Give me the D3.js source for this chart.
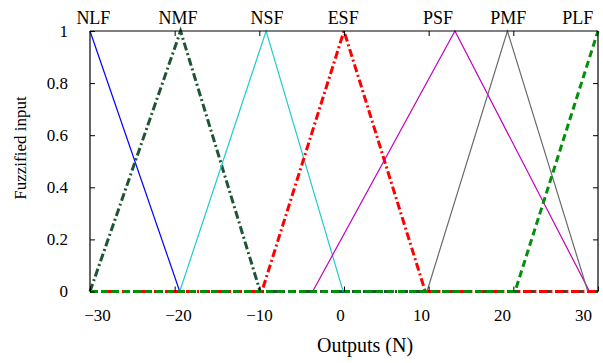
<!DOCTYPE html>
<html><head><meta charset="utf-8">
<script src="https://cdn.jsdelivr.net/npm/d3@7"></script>
<style>
html,body{margin:0;padding:0;background:#fff;}
svg{display:block;font-family:"Liberation Serif","Times New Roman",serif;}
</style></head>
<body><svg id="c" width="603" height="363"></svg>
<script>
// ---- data ----
const setNames = ["NLF","NMF","NSF","ESF","PSF","PMF","PLF"];
const nlfX = [-30, -19.4];            const nlfY = [1, 0];
const nmfX = [-30, -19.3, -9.9, 30];  const nmfY = [0, 1, 0, 0];
const nsfX = [-19.4, -9.2, -0.1];     const nsfY = [0, 1, 0];
const esfX = [-30, -9.7, 0, 9.6, 30]; const esfY = [0, 0, 1, 0, 0];
const psfX = [-3.7, 13.1, 29.0];      const psfY = [0, 1, 0];
const pmfX = [9.8, 19.3, 28.8];       const pmfY = [0, 1, 0];
const plfX = [-30, 20.2, 30];         const plfY = [0, 0, 1];
const nameAt = [-29.6, -19.6, -9.1, -0.1, 11.1, 19.4, 27.6];
const xTicks = [-30, -20, -10, 0, 10, 20, 30];
const yTicks = [0, 0.2, 0.4, 0.6, 0.8, 1];

const styles = [
  {c:"#0000ff", w:1.2, d:null},
  {c:"#1e5535", w:3, d:"8,3,2,3"},
  {c:"#22cccc", w:1.2, d:null},
  {c:"#ff0000", w:3, d:"8,3,2,3"},
  {c:"#c000c0", w:1.2, d:null},
  {c:"#6a6a6a", w:1.2, d:null},
  {c:"#00900a", w:3, d:"7,4"}
];
const series = [[nlfX,nlfY],[nmfX,nmfY],[nsfX,nsfY],[esfX,esfY],[psfX,psfY],[pmfX,pmfY],[plfX,plfY]];

const L=90, R=598, T=31, B=291.5;
const svg = d3.select("#c");
const x = d3.scaleLinear().domain([-30,30]).range([L,R]);
const xLab = d3.scaleLinear().domain([-30,30]).range([97,583]);
const y = d3.scaleLinear().domain([0,1]).range([B,T]);

// curves
const line = d3.line().x(d=>x(d[0])).y(d=>y(d[1]));
series.forEach((s,i)=>{
  const pts = s[0].map((v,j)=>[v, s[1][j]]);
  svg.append("path").attr("d", line(pts)).attr("fill","none")
    .attr("stroke", styles[i].c).attr("stroke-width", styles[i].w)
    .attr("stroke-dasharray", styles[i].d);
});

// axes
const fs = "17px";
const gb = svg.append("g").attr("transform",`translate(0,${B})`)
  .call(d3.axisBottom(x).tickValues(xTicks).tickSize(-5).tickPadding(17).tickFormat(d3.format("d")));
gb.select(".domain").remove();
gb.selectAll("text").attr("x", d=>xLab(d)-x(d));
const gt = svg.append("g").attr("transform",`translate(0,${T})`)
  .call(d3.axisTop(x).tickValues(xTicks.slice(1,-1)).tickSize(-5).tickFormat(""));
gt.select(".domain").attr("d", `M${L},0H${R}`);
const gl = svg.append("g").attr("transform",`translate(${L},0)`)
  .call(d3.axisLeft(y).tickValues(yTicks).tickSize(-5).tickPadding(22).tickFormat(d=>d===0?"0":d===1?"1":d3.format(".1f")(d)));
gl.select(".domain").attr("d", `M0,${T}V${B}`);
const gr = svg.append("g").attr("transform",`translate(${R},0)`)
  .call(d3.axisRight(y).tickValues(yTicks.slice(1,-1)).tickSize(-5).tickFormat(""));
gr.select(".domain").attr("d", `M0,${T}V${B}`);
svg.selectAll(".tick text").attr("font-size", fs).attr("fill","#000")
  .attr("font-family", '"Liberation Serif",serif');
svg.selectAll(".tick line").attr("stroke","#000");
svg.selectAll(".domain").attr("stroke","#000").attr("stroke-width",1.2);

// set names on top
svg.selectAll("text.nm").data(setNames).join("text").attr("class","nm")
  .attr("x",(d,i)=>x(nameAt[i])).attr("y",24).attr("text-anchor","middle")
  .attr("font-size","18px").text(d=>d);

// titles
svg.append("text").attr("x",365).attr("y",352).attr("text-anchor","middle")
  .attr("font-size","20px").text("Outputs (N)");
svg.append("text").attr("transform","translate(26,148) rotate(-90)")
  .attr("text-anchor","middle").attr("font-size","17px").text("Fuzzified input");
</script></body></html>
